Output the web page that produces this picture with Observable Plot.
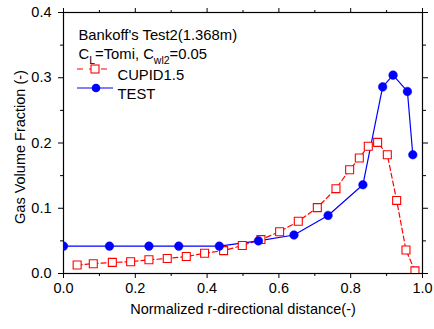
<!DOCTYPE html>
<html>
<head>
<meta charset="utf-8">
<script src="https://cdn.jsdelivr.net/npm/d3@7"></script>
<script src="https://cdn.jsdelivr.net/npm/@observablehq/plot@0.6"></script>
<style>
  html, body { margin: 0; padding: 0; background: white; }
</style>
</head>
<body>
<div id="chart"></div>
<script>
// ---- data ----
const testX = [0.000, 0.128, 0.238, 0.321, 0.434, 0.543, 0.642, 0.737, 0.834, 0.889, 0.918, 0.958, 0.973];
const testY = [0.042, 0.042, 0.042, 0.042, 0.042, 0.050, 0.059, 0.089, 0.136, 0.286, 0.304, 0.279, 0.182];

const cupidX = [0.038, 0.083, 0.136, 0.187, 0.238, 0.289, 0.342, 0.393, 0.446, 0.498, 0.550, 0.602,
                0.654, 0.707, 0.759, 0.797, 0.824, 0.849, 0.875, 0.902, 0.928, 0.954, 0.979];
const cupidY = [0.013, 0.015, 0.017, 0.018, 0.021, 0.023, 0.026, 0.031, 0.035, 0.043, 0.052, 0.064,
                0.080, 0.101, 0.130, 0.159, 0.177, 0.195, 0.201, 0.182, 0.112, 0.036, 0.004];

const xTicks = [0.0, 0.2, 0.4, 0.6, 0.8, 1.0];
const xMinorTicks = [0.1, 0.3, 0.5, 0.7, 0.9];
const yTicks = [0.0, 0.1, 0.2, 0.3, 0.4];
const yMinorTicks = [0.05, 0.15, 0.25, 0.35];

const xTitle = "Normalized r-directional distance(-)";
const yTitle = "Gas Volume Fraction (-)";
const legendTitle = "Bankoff's Test2(1.368m)";
const paramsText = "C|L|=Tomi, C|wl2|=0.05"; // "|...|" marks subscripts
const seriesNames = ["CUPID1.5", "TEST"];

const test = testX.map((x, i) => ({x, y: testY[i]}));
const cupid = cupidX.map((x, i) => ({x, y: cupidY[i]}));

const RED = "#ff0000", BLUE = "#0000ff";
const fmt = d => d.toFixed(1);
const blank = () => "";

const chart = Plot.plot({
  width: 434,
  height: 329,
  marginLeft: 63,
  marginRight: 12,
  marginTop: 12,
  marginBottom: 56,
  style: {fontFamily: "'Liberation Sans', Arial, sans-serif", fontSize: "14.5px", background: "white", color: "black"},
  x: {domain: [0, 1], label: null},
  y: {domain: [0, 0.4], label: null},
  marks: [
    Plot.axisX(xTicks, {anchor: "bottom", tickSize: 5, tickPadding: 4, tickFormat: fmt, label: null, fontSize: 14.5}),
    Plot.axisX(xMinorTicks, {anchor: "bottom", tickSize: 3, tickFormat: blank, label: null}),
    Plot.axisX(xTicks, {anchor: "top", tickSize: 5, tickFormat: blank, label: null}),
    Plot.axisX(xMinorTicks, {anchor: "top", tickSize: 3, tickFormat: blank, label: null}),
    Plot.axisY(yTicks, {anchor: "left", tickSize: 5, tickPadding: 7, tickFormat: fmt, label: null, fontSize: 14.5}),
    Plot.axisY(yMinorTicks, {anchor: "left", tickSize: 3, tickFormat: blank, label: null}),
    Plot.axisY(yTicks, {anchor: "right", tickSize: 5, tickFormat: blank, label: null}),
    Plot.axisY(yMinorTicks, {anchor: "right", tickSize: 3, tickFormat: blank, label: null}),
    Plot.frame({stroke: "black", strokeWidth: 1.2}),
    Plot.line(cupid, {x: "x", y: "y", stroke: RED, strokeWidth: 1.2, strokeDasharray: "5,3", clip: true}),
    Plot.line(test, {x: "x", y: "y", stroke: BLUE, strokeWidth: 1.2, clip: true}),
    Plot.dot(cupid, {x: "x", y: "y", symbol: "square", r: 4.5, stroke: RED, strokeWidth: 1.1, fill: "white", clip: true}),
    Plot.dot(test, {x: "x", y: "y", r: 4.3, fill: BLUE, stroke: BLUE, strokeWidth: 0.5, clip: true}),
    Plot.text([xTitle], {text: d => d, frameAnchor: "bottom", dy: 40, fontSize: 14.5}),
    Plot.text([yTitle], {text: d => d, frameAnchor: "left", textAnchor: "middle", dx: -43, dy: 4, rotate: -90, fontSize: 14.5}),
    Plot.text([legendTitle], {text: d => d, frameAnchor: "top-left", dx: 15, dy: 17, textAnchor: "start", fontSize: 14.8}),
    Plot.text([paramsText], {text: d => d, frameAnchor: "top-left", dx: 15, dy: 36, textAnchor: "start", fontSize: 14.8}),
    Plot.text([seriesNames[0]], {text: d => d, frameAnchor: "top-left", dx: 54, dy: 57, textAnchor: "start", fontSize: 14.8}),
    Plot.text([seriesNames[1]], {text: d => d, frameAnchor: "top-left", dx: 54, dy: 76, textAnchor: "start", fontSize: 14.8})
  ]
});

document.getElementById("chart").appendChild(chart);

const svgSel = d3.select(chart);
svgSel.selectAll("text").each(function() {
  const t = d3.select(this);
  const s = t.text();
  if (s !== paramsText) return;
  const parts = s.split("|");
  t.text(null);
  parts.forEach((p, i) => {
    const ts = t.append("tspan").text(p);
    if (i % 2 === 1) ts.attr("font-size", 10.5).attr("dy", 5);
    else if (i > 0) ts.attr("dy", -5);
  });
});

const frameLeft = 63, frameTop = 12;
const lg = svgSel.append("g");
const rows = [
  {y: frameTop + 57, color: RED, dash: true, sym: "square"},
  {y: frameTop + 76, color: BLUE, dash: false, sym: "circle"}
];
rows.forEach(r => {
  const ln = lg.append("line").attr("x1", frameLeft + 14).attr("x2", frameLeft + 50)
    .attr("y1", r.y).attr("y2", r.y).attr("stroke", r.color).attr("stroke-width", 1.2);
  if (r.dash) ln.attr("stroke-dasharray", "6,6").attr("stroke-dashoffset", 0);
  if (r.sym === "square") {
    lg.append("rect").attr("x", frameLeft + 32 - 4).attr("y", r.y - 4).attr("width", 8).attr("height", 8)
      .attr("fill", "white").attr("stroke", r.color).attr("stroke-width", 1.1);
  } else {
    lg.append("circle").attr("cx", frameLeft + 33).attr("cy", r.y).attr("r", 4.3).attr("fill", r.color);
  }
});
</script>
</body>
</html>
